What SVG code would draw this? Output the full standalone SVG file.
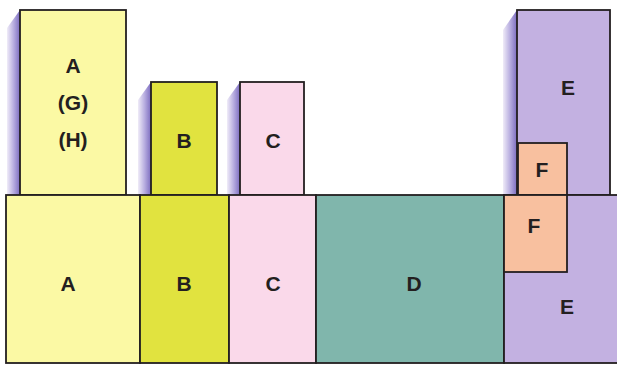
<svg xmlns="http://www.w3.org/2000/svg" width="617" height="365" viewBox="0 0 617 365">
<defs>
<linearGradient id="sh" x1="0" y1="0" x2="1" y2="0">
<stop offset="0" stop-color="#f0ecf8"/>
<stop offset="0.5" stop-color="#b8aee0"/>
<stop offset="1" stop-color="#7c6cc0"/>
</linearGradient>
<style>
rect{stroke:#231f20;stroke-width:1.8}
.shadow{fill:url(#sh);stroke:none}
text{font-family:"Liberation Sans",Arial,sans-serif;font-weight:bold;font-size:21px;fill:#231f20;text-anchor:middle}
.a{fill:#fbf9a4}.b{fill:#e1e33f}.c{fill:#fad9ea}.d{fill:#80b6ac}.e{fill:#c3b1e1}.f{fill:#f8c09f}
</style>
</defs>
<rect width="617" height="365" fill="#ffffff" style="stroke:none"/>
<g id="shadows">
<polygon class="shadow" points="20,10 20,196 7,196 7,28"/>
<polygon class="shadow" points="151,82 151,196 138,196 138,100"/>
<polygon class="shadow" points="240,82 240,196 227,196 227,100"/>
<polygon class="shadow" points="517,10 517,196 503,196 503,30"/>
</g>
<g id="A-top"><rect class="a" x="20" y="10" width="106" height="185"/><text x="73" y="73">A</text><text x="73" y="110">(G)</text><text x="73" y="147">(H)</text></g>
<g id="B-top"><rect class="b" x="151" y="82" width="66" height="113"/><text x="184" y="148">B</text></g>
<g id="C-top"><rect class="c" x="240" y="82" width="64" height="113"/><text x="273" y="148">C</text></g>
<g id="E-top"><rect class="e" x="517" y="10" width="93" height="185"/><text x="568" y="95">E</text></g>
<g id="F-top"><rect class="f" x="518" y="143" width="49" height="52"/><text x="542" y="177">F</text></g>
<g id="A-bottom"><rect class="a" x="6" y="195" width="134" height="168"/><text x="68" y="291">A</text></g>
<g id="B-bottom"><rect class="b" x="140" y="195" width="89" height="168"/><text x="184" y="291">B</text></g>
<g id="C-bottom"><rect class="c" x="229" y="195" width="87" height="168"/><text x="273" y="291">C</text></g>
<g id="D-bottom"><rect class="d" x="316" y="195" width="188" height="168"/><text x="414" y="291">D</text></g>
<g id="E-bottom"><rect class="e" x="504" y="195" width="116" height="168"/><text x="567" y="314">E</text></g>
<g id="F-bottom"><rect class="f" x="504" y="195" width="63" height="77"/><text x="534" y="233">F</text></g>
<g id="connectors"/>
</svg>
